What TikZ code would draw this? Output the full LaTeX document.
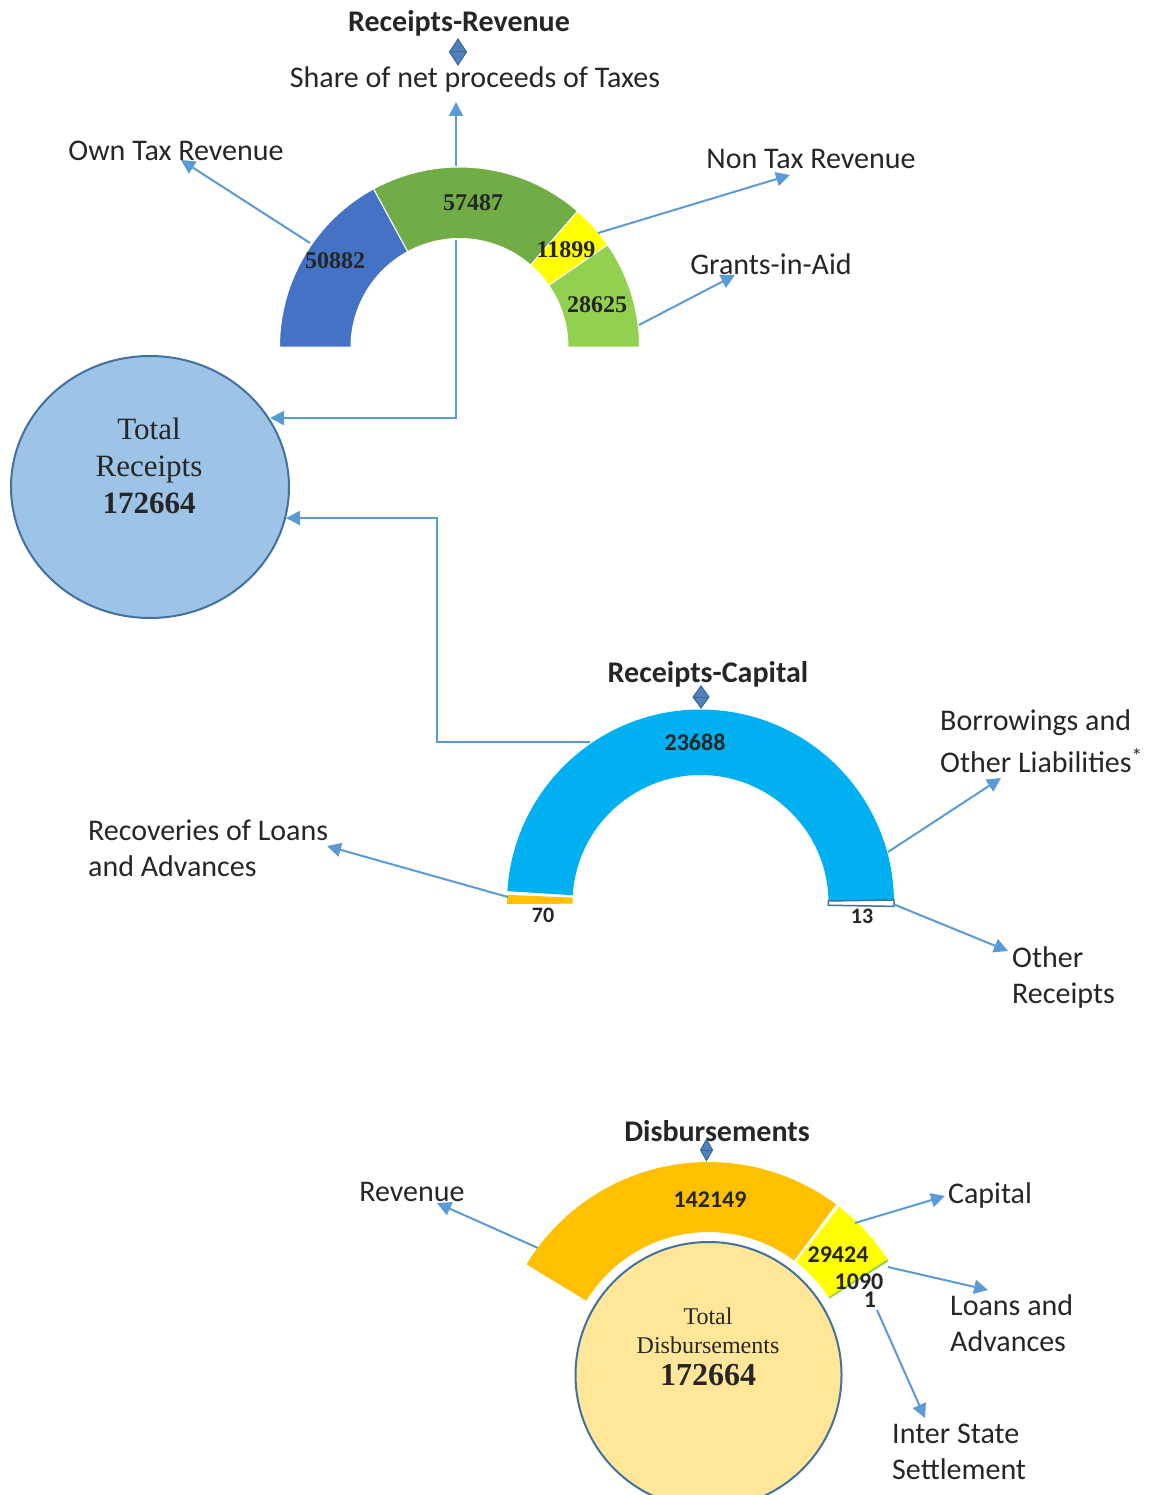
\documentclass[tikz,border=0pt]{standalone}
\usepackage{fontspec}
\setmainfont{Liberation Serif}
\newfontfamily\carl{Carlito}
\usetikzlibrary{arrows.meta,calc,shapes.geometric}
\definecolor{arrowc}{HTML}{5B9BD5}
\definecolor{txt}{HTML}{262626}
\definecolor{cblue}{HTML}{4472C4}
\definecolor{cgreen}{HTML}{70AD47}
\definecolor{cyell}{HTML}{FFFF00}
\definecolor{clgreen}{HTML}{92D050}
\definecolor{ccyan}{HTML}{00B0F0}
\definecolor{corange}{HTML}{FFC000}
\definecolor{edgeb}{HTML}{41719C}
\definecolor{trfill}{HTML}{9DC3E6}
\definecolor{tdfill}{HTML}{FFE699}
\definecolor{diamf}{HTML}{4F81BD}
\definecolor{diamd}{HTML}{3A6796}
\newcommand\ringseg[7]{%
  \path[#7] ($(#1,#2)+(#5:#4pt)$) arc[start angle=#5,end angle=#6,radius=#4pt]
    -- ($(#1,#2)+(#6:#3pt)$) arc[start angle=#6,end angle=#5,radius=#3pt] -- cycle;}
\begin{document}
\begin{tikzpicture}[x=1pt,y=1pt,
  arr/.style={draw=arrowc, line width=2pt, -{Triangle[length=14pt,width=14pt]}},
  lab/.style={font=\carl\fontsize{30}{36}\selectfont, text=txt, inner sep=0pt},
  ttl/.style={font=\carl\bfseries\fontsize{30}{34}\selectfont, text=txt, inner sep=0pt},
  num/.style={font=\bfseries\fontsize{24}{28}\selectfont, text=txt, inner sep=0pt},
  snum/.style={font=\carl\bfseries\fontsize{24}{28}\selectfont, text=txt, inner sep=0pt},
  diam/.style={fill=diamf, draw=diamd, line width=1pt},
  sep/.style={draw=white, line width=1pt}]
\useasboundingbox (0,0) rectangle (1148,-1495);
\clip (0,0) rectangle (1148,-1495);

% ---------- Receipts-Revenue gauge ----------
\ringseg{459.5}{-347}{108.5}{180}{180}{118.5}{fill=cblue,sep}
\ringseg{459.5}{-347}{108.5}{180}{118.5}{49}{fill=cgreen,sep}
\ringseg{459.5}{-347}{108.5}{180}{49}{34.6}{fill=cyell,sep}
\ringseg{459.5}{-347}{108.5}{180}{34.6}{0}{fill=clgreen,sep}
\node[num] (v1) at (335,-261) {50882};
\node[num] (v2) at (473,-203) {57487};
\node[num] (v3) at (566,-250) {11899};
\node[num] (v4) at (597,-305) {28625};

\node[ttl] (rrt) at (459,-23) {Receipts-Revenue};
\filldraw[diam] (458,-39) -- (466.5,-52) -- (458,-65) -- (449.5,-52) -- cycle;
\draw[diamd, line width=1pt] (449.5,-52) -- (466.5,-52);
\node[lab] (share) at (475,-80) {Share of net proceeds of Taxes};
\node[lab] (own) at (176,-151) {Own Tax Revenue};
\node[lab] (nontax) at (811,-159) {Non Tax Revenue};
\node[lab] (grants) at (771,-264) {Grants-in-Aid};

\coordinate (ownS) at (310,-243);   \coordinate (ownE) at (181,-160);
\coordinate (shS) at (456,-166);    \coordinate (shE) at (456,-102);
\coordinate (ntS) at (598,-233);    \coordinate (ntE) at (790,-175);
\coordinate (gaS) at (639,-325);    \coordinate (gaE) at (735,-275);
\draw[arr] (ownS) -- (ownE);
\draw[arr] (shS) -- (shE);
\draw[arr] (ntS) -- (ntE);
\draw[arr] (gaS) -- (gaE);

% ---------- Total Receipts ----------
\node[ellipse, fill=trfill, draw=edgeb, line width=2pt,
      minimum width=278pt, minimum height=262pt, inner sep=0pt] (tr) at (150,-487) {};
\node[align=center, text=txt, inner sep=0pt, font=\fontsize{31}{37}\selectfont] (trt) at (149,-466)
  {Total\\Receipts\\\textbf{172664}};
\coordinate (rvS) at (456,-240); \coordinate (rvC) at (456,-418); \coordinate (rvE) at (270,-418);
\draw[arr] (rvS) -- (rvC) -- (rvE);
\coordinate (caS) at (590,-742); \coordinate (caC1) at (437,-742);
\coordinate (caC2) at (437,-518); \coordinate (caE) at (286,-518);
\draw[arr] (caS) -- (caC1) -- (caC2) -- (caE);

% ---------- Receipts-Capital gauge ----------
\ringseg{700.5}{-903}{128}{193.5}{176.5}{1}{fill=ccyan}
\ringseg{700.5}{-903}{128}{193.5}{180.3}{177.6}{fill=corange}
\ringseg{700.5}{-903}{128}{193.5}{0.9}{-1}{fill=white,draw=edgeb,line width=1.5pt}
\node[snum] (c1) at (695,-742) {23688};
\node[snum, font=\carl\bfseries\fontsize{22}{26}\selectfont] (c2) at (543,-915) {70};
\node[snum, font=\carl\bfseries\fontsize{22}{26}\selectfont] (c3) at (862,-916) {13};
\node[ttl] (rct) at (708,-674) {Receipts-Capital};
\filldraw[diam] (701,-686) -- (709,-697) -- (701,-708) -- (693,-697) -- cycle;
\draw[diamd, line width=1pt] (693,-697) -- (709,-697);

\node[lab, align=left, anchor=west, font=\carl\fontsize{30}{42}\selectfont] (borrow) at (940,-741)
  {Borrowings and\\Other Liabilities\textsuperscript{*}};
\node[lab, align=left, anchor=west] (recov) at (88,-848) {Recoveries of Loans\\and Advances};
\node[lab, align=left, anchor=west] (otherr) at (1012,-977) {Other\\Receipts};
\coordinate (boS) at (888,-852);  \coordinate (boE) at (1001,-778);
\coordinate (reS) at (508,-897);  \coordinate (reE) at (327,-846);
\coordinate (orS) at (893,-904);  \coordinate (orE) at (1008,-951);
\draw[arr] (boS) -- (boE);
\draw[arr] (reS) -- (reE);
\draw[arr] (orS) -- (orE);

% ---------- Disbursements ----------
\node[circle, fill=tdfill, draw=edgeb, line width=2pt, minimum size=266pt, inner sep=0pt] (td) at (708.5,-1375) {};
\node[align=center, text=txt, inner sep=0pt, font=\fontsize{24}{29}\selectfont] (tdt) at (708,-1347)
  {Total\\Disbursements\\[3pt]{\fontsize{32}{29}\selectfont\bfseries 172664}};

\ringseg{708.5}{-1375}{143}{213}{148.7}{53.2}{fill=corange}
\ringseg{708.5}{-1375}{143}{213}{52.2}{32.9}{fill=cyell}
\ringseg{708.5}{-1375}{143}{213}{32.9}{32.3}{fill=clgreen}
\node[snum] (d1) at (710,-1200) {142149};
\node[snum] (d2) at (838,-1255) {29424};
\node[snum] (d3) at (859,-1282) {1090};
\node[snum] (d4) at (870,-1300) {1};
\node[ttl] (dt) at (717,-1131) {Disbursements};
\filldraw[diam] (706.5,-1139.5) -- (712.5,-1150) -- (706.5,-1160.5) -- (700.5,-1150) -- cycle;
\draw[diamd, line width=1pt] (700.5,-1150) -- (712.5,-1150);

\node[lab] (drev) at (412,-1192) {Revenue};
\node[lab] (dcap) at (990,-1195) {Capital};
\node[lab, align=left, anchor=west] (dloan) at (950,-1323.5) {Loans and\\Advances};
\node[lab, align=left, anchor=west] (dist) at (892,-1451.5) {Inter State\\Settlement};
\coordinate (drS) at (538,-1248); \coordinate (drE) at (437,-1203);
\coordinate (dcS) at (855,-1223); \coordinate (dcE) at (945,-1196);
\coordinate (dlS) at (888,-1267); \coordinate (dlE) at (988,-1290);
\coordinate (diS) at (877,-1310); \coordinate (diE) at (925,-1418);
\draw[arr] (drS) -- (drE);
\draw[arr] (dcS) -- (dcE);
\draw[arr] (dlS) -- (dlE);
\draw[arr] (diS) -- (diE);
\end{tikzpicture}
\end{document}
